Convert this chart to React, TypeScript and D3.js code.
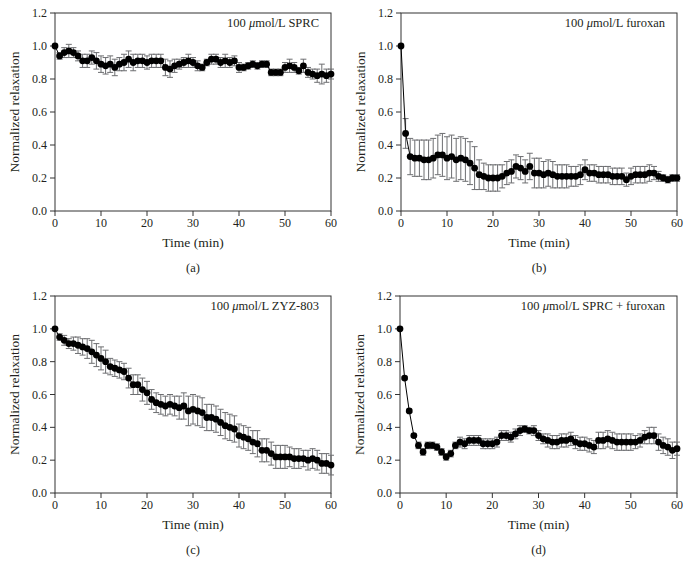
import React from "react";
import * as d3 from "d3";

// time points, one reading per minute
const timeMin = d3.range(0, 61);

// (a) 100 umol/L SPRC
const sprcMean = [
  1.0, 0.94, 0.96, 0.97, 0.96, 0.94, 0.91, 0.91, 0.93, 0.91, 0.89, 0.88, 0.89, 0.87, 0.89, 0.9,
  0.92, 0.9, 0.91, 0.91, 0.9, 0.91, 0.91, 0.91, 0.87, 0.86, 0.88, 0.89, 0.9, 0.91, 0.9, 0.88,
  0.87, 0.9, 0.92, 0.92, 0.9, 0.91, 0.9, 0.91, 0.87, 0.87, 0.88, 0.89, 0.88, 0.89, 0.89, 0.84,
  0.84, 0.84, 0.87, 0.88, 0.87, 0.85, 0.88, 0.84, 0.83, 0.82, 0.83, 0.82, 0.83,
];
const sprcErr = [
  0, 0.02, 0.03, 0.04, 0.03, 0.03, 0.04, 0.04, 0.04, 0.05, 0.05, 0.05, 0.05, 0.05, 0.04, 0.05,
  0.05, 0.05, 0.04, 0.04, 0.04, 0.04, 0.04, 0.04, 0.05, 0.05, 0.04, 0.03, 0.03, 0.04, 0.03, 0.03,
  0.02, 0.02, 0.03, 0.03, 0.03, 0.04, 0.03, 0.03, 0.03, 0.02, 0.02, 0.02, 0.02, 0.02, 0.02, 0.02,
  0.02, 0.02, 0.03, 0.04, 0.03, 0.02, 0.04, 0.03, 0.03, 0.04, 0.06, 0.04, 0.03,
];

// (b) 100 umol/L furoxan
const furoxanMean = [
  1.0, 0.47, 0.33, 0.32, 0.32, 0.31, 0.31, 0.32, 0.34, 0.34, 0.32, 0.33, 0.31, 0.32, 0.31, 0.29,
  0.26, 0.22, 0.21, 0.2, 0.2, 0.2, 0.21, 0.23, 0.24, 0.27, 0.26, 0.24, 0.27, 0.23, 0.23, 0.22,
  0.23, 0.22, 0.21, 0.21, 0.21, 0.21, 0.21, 0.22, 0.25, 0.23, 0.23, 0.22, 0.22, 0.22, 0.21, 0.21,
  0.21, 0.19, 0.21, 0.22, 0.22, 0.22, 0.23, 0.23, 0.21, 0.2, 0.19, 0.2, 0.2,
];
const furoxanErr = [
  0, 0.09, 0.11, 0.11, 0.11, 0.12, 0.12, 0.12, 0.12, 0.13, 0.13, 0.13, 0.13, 0.13, 0.13, 0.13,
  0.13, 0.09, 0.08, 0.08, 0.08, 0.08, 0.07, 0.07, 0.07, 0.07, 0.07, 0.07, 0.08, 0.09, 0.09, 0.08,
  0.08, 0.08, 0.07, 0.07, 0.07, 0.06, 0.06, 0.06, 0.06, 0.05, 0.05, 0.05, 0.05, 0.05, 0.05, 0.05,
  0.05, 0.04, 0.05, 0.05, 0.05, 0.05, 0.05, 0.04, 0.03, 0.02, 0.02, 0.02, 0.02,
];

// (c) 100 umol/L ZYZ-803
const zyzMean = [
  1.0, 0.95, 0.93, 0.91, 0.91, 0.9, 0.89, 0.88, 0.86, 0.84, 0.82, 0.8, 0.77, 0.76, 0.75, 0.74,
  0.7, 0.66, 0.66, 0.63, 0.61, 0.57, 0.55, 0.54, 0.53, 0.54, 0.53, 0.52, 0.53, 0.5, 0.51, 0.5,
  0.49, 0.46, 0.46, 0.45, 0.43, 0.41, 0.4, 0.39, 0.35, 0.34, 0.33, 0.31, 0.3, 0.26, 0.26, 0.24,
  0.22, 0.22, 0.22, 0.22, 0.21, 0.21, 0.21, 0.2, 0.21, 0.2, 0.18, 0.18, 0.17,
];
const zyzErr = [
  0, 0.02, 0.03, 0.03, 0.04, 0.05, 0.05, 0.06, 0.07, 0.07, 0.07, 0.07, 0.05, 0.05, 0.05, 0.05,
  0.06, 0.06, 0.06, 0.07, 0.07, 0.06, 0.06, 0.06, 0.06, 0.06, 0.06, 0.07, 0.08, 0.09, 0.09, 0.09,
  0.09, 0.08, 0.08, 0.08, 0.08, 0.08, 0.08, 0.08, 0.07, 0.07, 0.07, 0.07, 0.08, 0.07, 0.07, 0.07,
  0.07, 0.07, 0.07, 0.06, 0.06, 0.06, 0.05, 0.06, 0.06, 0.06, 0.06, 0.06, 0.06,
];

// (d) 100 umol/L SPRC + furoxan
const comboMean = [
  1.0, 0.7, 0.5, 0.35, 0.29, 0.25, 0.29, 0.29, 0.28, 0.25, 0.22, 0.24, 0.29, 0.31, 0.3, 0.32,
  0.32, 0.32, 0.3, 0.3, 0.3, 0.31, 0.35, 0.35, 0.34, 0.36, 0.38, 0.39, 0.38, 0.38, 0.35, 0.33,
  0.32, 0.31, 0.31, 0.32, 0.32, 0.33, 0.31, 0.3, 0.3, 0.29, 0.28, 0.32, 0.32, 0.33, 0.32, 0.31,
  0.31, 0.31, 0.31, 0.31, 0.32, 0.34, 0.35, 0.35, 0.31, 0.29, 0.28, 0.26, 0.27,
];
const comboErr = [
  0, 0.01, 0.01, 0.01, 0.02, 0.02, 0.02, 0.02, 0.02, 0.02, 0.02, 0.02, 0.02, 0.03, 0.03, 0.03,
  0.03, 0.03, 0.03, 0.03, 0.03, 0.03, 0.03, 0.03, 0.03, 0.03, 0.03, 0.02, 0.02, 0.03, 0.03, 0.03,
  0.04, 0.04, 0.04, 0.04, 0.04, 0.04, 0.04, 0.04, 0.04, 0.04, 0.04, 0.05, 0.05, 0.05, 0.05, 0.05,
  0.05, 0.05, 0.05, 0.04, 0.04, 0.04, 0.05, 0.05, 0.05, 0.05, 0.05, 0.05, 0.04,
];

const xTicks = [0, 10, 20, 30, 40, 50, 60];
const yTicks = [0, 0.2, 0.4, 0.6, 0.8, 1.0, 1.2];

const FONT = "'Liberation Serif', 'Times New Roman', serif";

interface PanelProps {
  left: number;
  right: number;
  top: number;
  bottom: number;
  mean: number[];
  err: number[];
  label: string;
  tag: string;
}

const Panel: React.FC<PanelProps> = ({ left, right, top, bottom, mean, err, label, tag }) => {
  const x = d3.scaleLinear().domain([0, 60]).range([left, right]);
  const y = d3.scaleLinear().domain([0, 1.2]).range([bottom, top]);

  const line = d3
    .line<number>()
    .x((_, i) => x(timeMin[i]))
    .y((d) => y(d));

  const midX = (left + right) / 2;
  const midY = (top + bottom) / 2;

  return (
    <g fontFamily={FONT} fill="#231f20">
      {/* frame */}
      <rect x={left} y={top} width={right - left} height={bottom - top} fill="none" stroke="#333" strokeWidth={1} />

      {/* y ticks */}
      {yTicks.map((t) => (
        <g key={"y" + t}>
          <line x1={left - 5} x2={left} y1={y(t)} y2={y(t)} stroke="#333" />
          <text x={left - 8} y={y(t) + 4} textAnchor="end" fontSize={12}>
            {t.toFixed(1)}
          </text>
        </g>
      ))}

      {/* x ticks */}
      {xTicks.map((t) => (
        <g key={"x" + t}>
          <line x1={x(t)} x2={x(t)} y1={bottom} y2={bottom + 5} stroke="#333" />
          <text x={x(t)} y={bottom + 16} textAnchor="middle" fontSize={12}>
            {t}
          </text>
        </g>
      ))}

      {/* error bars */}
      {mean.map((m, i) => {
        const e = err[i];
        if (!e) return null;
        const cx = x(timeMin[i]);
        return (
          <g key={"e" + i} stroke="#6d6e71" strokeWidth={1}>
            <line x1={cx} x2={cx} y1={y(m + e)} y2={y(m - e)} />
            <line x1={cx - 3} x2={cx + 3} y1={y(m + e)} y2={y(m + e)} />
            <line x1={cx - 3} x2={cx + 3} y1={y(m - e)} y2={y(m - e)} />
          </g>
        );
      })}

      <path d={line(mean) || ""} fill="none" stroke="#000" strokeWidth={1} />

      {mean.map((m, i) => (
        <circle key={"c" + i} cx={x(timeMin[i])} cy={y(m)} r={3.4} fill="#000" />
      ))}

      <text x={right - 12} y={top + 14} textAnchor="end" fontSize={12.5}>
        100 <tspan fontStyle="italic">μ</tspan>mol/L {label}
      </text>

      <text x={midX} y={bottom + 36} textAnchor="middle" fontSize={13.5}>
        Time (min)
      </text>
      <text
        transform={`translate(${left - 36},${midY}) rotate(-90)`}
        textAnchor="middle"
        fontSize={13.5}
      >
        Normalized relaxation
      </text>
      <text x={midX} y={bottom + 61} textAnchor="middle" fontSize={12.5}>
        ({tag})
      </text>
    </g>
  );
};

export default function App() {
  return (
    <svg
      width={693}
      height={568}
      style={{ position: "absolute", left: 0, top: 0, background: "#fff" }}
    >
      <Panel left={55} right={331} top={13} bottom={211} mean={sprcMean} err={sprcErr} label="SPRC" tag="a" />
      <Panel left={401} right={677} top={13} bottom={211} mean={furoxanMean} err={furoxanErr} label="furoxan" tag="b" />
      <Panel left={55} right={331} top={296} bottom={493} mean={zyzMean} err={zyzErr} label="ZYZ-803" tag="c" />
      <Panel left={400} right={677} top={296} bottom={493} mean={comboMean} err={comboErr} label="SPRC + furoxan" tag="d" />
    </svg>
  );
}
